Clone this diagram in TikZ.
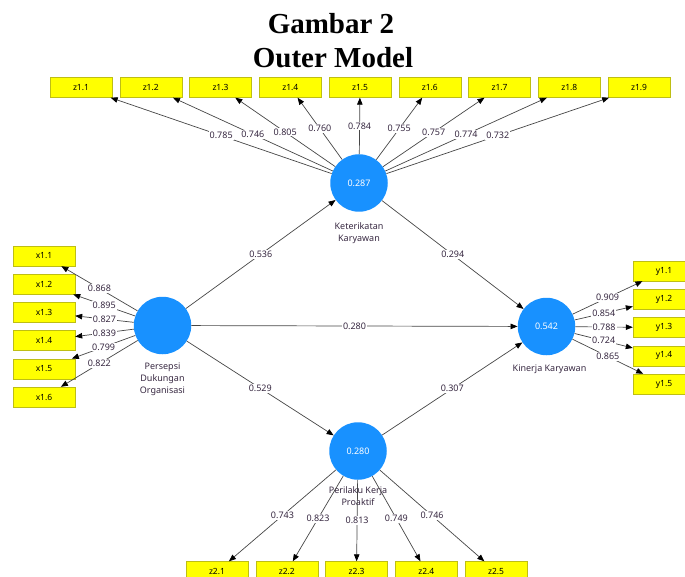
\documentclass[tikz,border=0pt]{standalone}
\usepackage{fontspec}
\setmainfont{Liberation Serif}
\newfontfamily\plsfont{Noto Sans}
\usetikzlibrary{positioning, arrows.meta}
\definecolor{lvblue}{RGB}{24,145,255}
\definecolor{indyellow}{RGB}{255,255,0}
\definecolor{indborder}{RGB}{190,190,20}
\definecolor{linkgray}{RGB}{70,70,70}
\definecolor{lvtext}{RGB}{55,40,65}
\tikzset{
  latent/.style={circle, fill=lvblue, minimum size=57.5pt, inner sep=0pt, text=white, font=\plsfont\fontsize{9}{10}\selectfont},
  indicator/.style={rectangle, draw=indborder, fill=indyellow, minimum width=62pt, minimum height=20pt, inner sep=0pt, font=\plsfont\fontsize{8.5}{9}\selectfont},
  lvname/.style={align=center, inner sep=1pt, text=lvtext, font=\plsfont\fontsize{9}{12}\selectfont},
  coef/.style={fill=white, inner sep=1pt, text=lvtext, font=\plsfont\fontsize{9}{10}\selectfont},
  link/.style={draw=linkgray, line width=0.7pt, -{Triangle[length=7pt, width=5.5pt, color=black]}},
  heading/.style={inner sep=0pt, anchor=base, font=\bfseries\fontsize{29}{33}\selectfont},
}

\begin{document}
\begin{tikzpicture}[x=1pt, y=-1pt]
\useasboundingbox (0,0) rectangle (685,577);
\clip (0,0) rectangle (685,577);

% title
\node[heading] (title1) at (331,34) {Gambar 2};
\node[heading] (title2) at (333,68) {Outer Model};

% latent variables
\node[latent] (pdo) at (162.5,325.5) {};
\node[latent] (ktk) at (359,183) {0.287};
\node[latent] (kk) at (546.5,326.5) {0.542};
\node[latent] (pkp) at (358,451) {0.280};

\node[lvname, below=7pt of pdo] (pdoname) {Persepsi\\ Dukungan\\ Organisasi};
\node[lvname, below=10pt of ktk] (ktkname) {Keterikatan\\ Karyawan};
\node[lvname, below=8pt of kk, xshift=3pt] (kkname) {Kinerja Karyawan};
\node[lvname, below=6pt of pkp] (pkpname) {Perilaku Kerja\\ Proaktif};

% indicators
\foreach \i in {1,...,9}
  \node[indicator] (z1\i) at ({81+69.75*(\i-1)},87.5) {z1.\i};
\foreach \i in {1,...,6}
  \node[indicator] (x\i) at (44,{256+28.2*(\i-1)}) {x1.\i};
\foreach \i in {1,...,5}
  \node[indicator] (y\i) at (664,{271+28.25*(\i-1)}) {y1.\i};
\foreach \i in {1,...,5}
  \node[indicator] (z2\i) at ({217+69.75*(\i-1)},571.5) {z2.\i};

% outer loadings
\foreach \i/\v in {1/0.785, 2/0.746, 3/0.805, 4/0.760, 5/0.784, 6/0.755, 7/0.757, 8/0.774, 9/0.732}
  \draw[link] (ktk) -- node[coef] {\v} (z1\i);
\foreach \i/\v in {1/0.868, 2/0.895, 3/0.827, 4/0.839, 5/0.799, 6/0.822}
  \draw[link] (pdo) -- node[coef] {\v} (x\i);
\foreach \i/\v in {1/0.909, 2/0.854, 3/0.788, 4/0.724, 5/0.865}
  \draw[link] (kk) -- node[coef] {\v} (y\i);
\foreach \i/\v in {1/0.743, 2/0.823, 3/0.813, 4/0.749, 5/0.746}
  \draw[link] (pkp) -- node[coef] {\v} (z2\i);

% inner model
\draw[link] (pdo) -- node[coef] {0.536} (ktk);
\draw[link] (ktk) -- node[coef] {0.294} (kk);
\draw[link] (pdo) -- node[coef] {0.280} (kk);
\draw[link] (pdo) -- node[coef] {0.529} (pkp);
\draw[link] (pkp) -- node[coef] {0.307} (kk);
\end{tikzpicture}
\end{document}
